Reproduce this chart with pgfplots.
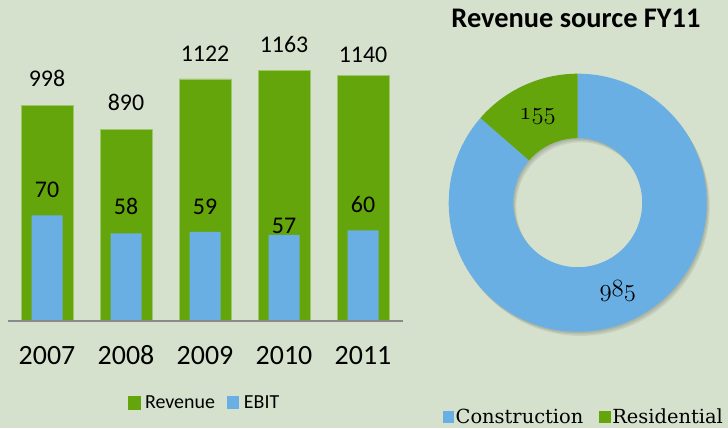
\documentclass[border=0pt]{standalone}
\usepackage{pgfplots}
\pgfplotsset{compat=1.18}
\usepackage{pgfplotstable}
\usepackage{fontspec}
\setmainfont{Carlito}
\newfontfamily\pieserif{DejaVu Serif}
\definecolor{bg}{HTML}{D5E1CD}
\definecolor{revgreen}{HTML}{63A50B}
\definecolor{ebitblue}{HTML}{69AFE3}
\definecolor{axgray}{HTML}{8A8A8A}
\definecolor{greenedge}{HTML}{9CC86A}

\pgfplotstableread{
x rev off
0 998 18.7
1 890 18.3
2 1122 17.3
3 1163 17.3
4 1140 12.3
}\revtable
\pgfplotstableread{
x ebit off
0 70 17.7
1 58 18.3
2 59 17
3 57 1.5
4 60 17.7
}\ebittable

\def\valA{985}
\def\valB{155}

\begin{document}
\begin{tikzpicture}[x=1bp,y=1bp]
\fill[bg] (0,0) rectangle (728,428);

\pgfplotsset{barbase/.style={scale only axis, width=395bp, height=260bp,
  at={(7.5bp,107bp)}, anchor=south west, xmin=-0.5, xmax=4.5, ymin=0, clip=false,
  /pgf/number format/assume math mode=true, /pgf/number format/1000 sep={}}}

\begin{axis}[barbase, ymax=1205.4, hide axis,
  nodes near coords, visualization depends on={\thisrow{off}\as\myoff},
  nodes near coords style={font=\fontsize{24}{28}\selectfont, anchor=south,
    inner sep=0pt, yshift=\myoff bp, text=black}]
\addplot[ybar, bar width=52bp, bar shift=0pt, fill=revgreen, draw=greenedge, line width=0.8bp]
  table[x=x,y=rev]{\revtable};
\end{axis}

\begin{axis}[barbase, ymax=172.2, axis x line=bottom, axis y line=none, axis on top,
  xtick={0,1,2,3,4}, xticklabels={2007,2008,2009,2010,2011}, major tick length=0pt,
  x axis line style={-, draw=axgray, line width=2.5bp},
  xticklabel style={font=\fontsize{28}{32}\selectfont, anchor=north, inner sep=0pt, yshift=-24.7bp},
  nodes near coords, visualization depends on={\thisrow{off}\as\myoff},
  nodes near coords style={font=\fontsize{24}{28}\selectfont, anchor=south,
    inner sep=0pt, yshift=\myoff bp, text=black},
  legend columns=2,
  legend style={at={(0.4987,-0.315)}, anchor=center, draw=none, fill=none,
    font=\fontsize{20}{24}\selectfont,
    /tikz/every odd column/.append style={column sep=2.5bp},
    /tikz/every even column/.append style={column sep=10bp}}]
\addlegendimage{legend image code/.code={\fill[revgreen] (0bp,-6bp) rectangle (12.5bp,6.5bp);}}
\addlegendentry{Revenue}
\addplot[ybar, bar width=31bp, bar shift=0pt, fill=ebitblue, draw=none,
  legend image code/.code={\fill[ebitblue] (0bp,-6bp) rectangle (12.5bp,6.5bp);}]
  table[x=x,y=ebit]{\ebittable};
\addlegendentry{EBIT}
\end{axis}

% donut
\pgfmathsetmacro\total{\valA+\valB}
\pgfmathsetmacro\fracA{\valA/\total}
\pgfmathsetmacro\angA{90-360*\fracA}
\pgfmathsetmacro\angB{\angA+360}
\pgfmathsetmacro\midA{90-180*\fracA}
\pgfmathsetmacro\midB{(\angB+90)/2}
\begin{scope}[shift={(577.7bp,225.3bp)}]
  \foreach \d/\o in {1/0.07,2/0.07,3/0.07}{
    \fill[black, opacity=\o, even odd rule] (\d bp,-1.4*\d bp) circle (129bp) (\d bp,-1.4*\d bp) circle (64.5bp);
  }
  \fill[ebitblue] (90:129bp) arc[start angle=90, end angle=\angA, radius=129bp]
     -- (\angA:64.5bp) arc[start angle=\angA, end angle=90, radius=64.5bp] -- cycle;
  \fill[revgreen] (\angB:129bp) arc[start angle=\angB, end angle=90, radius=129bp]
     -- (90:64.5bp) arc[start angle=90, end angle=\angB, radius=64.5bp] -- cycle;
  \node[font=\fontsize{25}{30}\selectfont] at (\midA:96.75bp) {$\mathnormal{\valA}$};
  \node[font=\fontsize{25}{30}\selectfont, yshift=-2bp] at (\midB:96.75bp) {$\mathnormal{\valB}$};
\end{scope}

\node[font=\bfseries\fontsize{28.5}{32}\selectfont, anchor=base] at (576bp,400bp) {Revenue source FY11};

\begin{axis}[hide axis, scale only axis, width=10bp, height=10bp, at={(583.8bp,11bp)}, anchor=center,
  xmin=0, xmax=1, ymin=0, ymax=1, legend columns=2,
  legend style={at={(0.5,0.5)}, anchor=center, draw=none, fill=none,
    font=\pieserif\fontsize{19.5}{23}\selectfont,
    /tikz/every even column/.append style={column sep=14bp}}]
\addlegendimage{legend image code/.code={\fill[ebitblue] (0bp,-5.5bp) rectangle (10.5bp,5.5bp);}}
\addlegendentry{Construction}
\addlegendimage{legend image code/.code={\fill[revgreen] (0bp,-5.5bp) rectangle (10.5bp,5.5bp);}}
\addlegendentry{Residential}
\end{axis}

\pgfresetboundingbox
\path[use as bounding box] (0,0) rectangle (728,428);
\end{tikzpicture}
\end{document}
